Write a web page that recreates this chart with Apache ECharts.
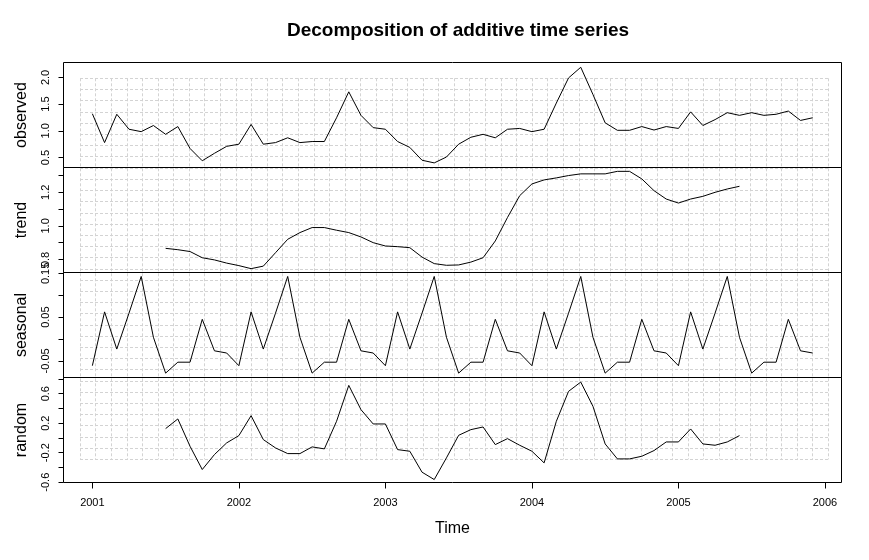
<!DOCTYPE html>
<html>
<head>
<meta charset="utf-8">
<script src="https://cdn.jsdelivr.net/npm/echarts@6/dist/echarts.min.js"></script>
<style>
html,body{margin:0;padding:0;background:#fff;}
#chart{width:869px;height:560px;}
</style>
</head>
<body>
<div id="chart"></div>
<script>
// ---- data (monthly time series, start 2001, frequency 12) ----
const startYear = 2001;
const frequency = 12;
const yearTicks = [2001, 2002, 2003, 2004, 2005, 2006];
const panelNames = ['observed', 'trend', 'seasonal', 'random'];

const observed = [
  1.32, 0.78, 1.31, 1.03, 0.985, 1.10, 0.935, 1.08, 0.67, 0.44, 0.58, 0.71,
  0.75, 1.12, 0.75, 0.78, 0.87, 0.78, 0.80, 0.80, 1.245, 1.73, 1.29, 1.06,
  1.03, 0.80, 0.69, 0.45, 0.40, 0.51, 0.75, 0.88, 0.935, 0.87, 1.03, 1.045,
  0.985, 1.03, 1.52, 1.99, 2.19, 1.68, 1.15, 1.01, 1.01, 1.08, 1.015, 1.08,
  1.045, 1.355, 1.10, 1.21, 1.34, 1.29, 1.34, 1.29, 1.31, 1.37, 1.195, 1.245
];
const trend = [
  null, null, null, null, null, null,
  0.866, 0.858, 0.847, 0.81, 0.797, 0.778,
  0.763, 0.745, 0.76, 0.84, 0.92, 0.96, 0.99, 0.99, 0.974, 0.96, 0.934, 0.90,
  0.88, 0.876, 0.87, 0.814, 0.775, 0.765, 0.767, 0.784, 0.81, 0.91, 1.05, 1.18,
  1.25, 1.274, 1.286, 1.30, 1.31, 1.31, 1.31, 1.325, 1.325, 1.28, 1.21, 1.16,
  1.136, 1.16, 1.176, 1.20, 1.22, 1.236,
  null, null, null, null, null, null
];
const seasonal = [
  -0.061, 0.062, -0.023, 0.059, 0.143, 0.004, -0.078, -0.053, -0.053, 0.045, -0.027, -0.032,
  -0.061, 0.062, -0.023, 0.059, 0.143, 0.004, -0.078, -0.053, -0.053, 0.045, -0.027, -0.032,
  -0.061, 0.062, -0.023, 0.059, 0.143, 0.004, -0.078, -0.053, -0.053, 0.045, -0.027, -0.032,
  -0.061, 0.062, -0.023, 0.059, 0.143, 0.004, -0.078, -0.053, -0.053, 0.045, -0.027, -0.032,
  -0.061, 0.062, -0.023, 0.059, 0.143, 0.004, -0.078, -0.053, -0.053, 0.045, -0.027, -0.032
];
const random = [
  null, null, null, null, null, null,
  0.127, 0.258, -0.113, -0.428, -0.225, -0.067,
  0.032, 0.302, -0.022, -0.135, -0.212, -0.212, -0.121, -0.148, 0.226, 0.713, 0.384, 0.19,
  0.19, -0.158, -0.18, -0.464, -0.564, -0.27, 0.036, 0.113, 0.149, -0.09, -0.009, -0.099,
  -0.18, -0.338, 0.226, 0.632, 0.758, 0.429, -0.081, -0.284, -0.284, -0.248, -0.171, -0.054,
  -0.054, 0.122, -0.081, -0.099, -0.054, 0.032,
  null, null, null, null, null, null
];

// axis ticks / labels per panel
const observedTicks = [0.5, 1.0, 1.5, 2.0];
const observedLabels = [0.5, 1.0, 1.5, 2.0];
const trendTicks = [0.8, 0.9, 1.0, 1.1, 1.2, 1.3];
const trendLabels = [0.8, 1.0, 1.2];
const seasonalTicks = [-0.05, 0.0, 0.05, 0.10, 0.15];
const seasonalLabels = [-0.05, 0.05, 0.15];
const randomTicks = [-0.6, -0.4, -0.2, 0.0, 0.2, 0.4, 0.6, 0.8];
const randomLabels = [-0.6, -0.2, 0.2, 0.6];

// ---- layout / style ----
const FONT = '"Liberation Sans", Arial, sans-serif';
const L = 63.5, W = 778;
const panelTops = [62.5, 167.5, 272.5, 377.5];
const panelH = 105;
const yLimits = [[0.314, 2.279], [0.722, 1.348], [-0.088, 0.152], [-0.604, 0.82]];
const xMin = 2000.803, xMax = 2006.113;

const seriesValues = [observed, trend, seasonal, random];
const tickSets = [observedTicks, trendTicks, seasonalTicks, randomTicks];
const labelSets = [observedLabels, trendLabels, seasonalLabels, randomLabels];
const decimals = [1, 1, 2, 1];

function toPairs(arr) {
  return arr.map((v, i) => [startYear + i / frequency, v]);
}

const grids = [], xAxes = [], yAxes = [], series = [];
panelTops.forEach((top, k) => {
  grids.push({left: L, top: top, width: W, height: panelH, show: true,
    borderColor: '#000', borderWidth: 1, backgroundColor: 'transparent', containLabel: false});
  const isLast = k === 3;
  xAxes.push({
    type: 'value', gridIndex: k, min: xMin, max: xMax, position: 'bottom',
    axisLine: {show: false, onZero: false},
    splitLine: {show: false},
    axisTick: {show: isLast, customValues: yearTicks, length: 6, lineStyle: {color: '#000'}},
    axisLabel: {show: isLast, customValues: yearTicks, margin: 15, fontSize: 11, color: '#000',
      fontFamily: FONT, formatter: v => String(Math.round(v))},
    name: isLast ? 'Time' : '', nameLocation: 'middle', nameGap: 38,
    nameTextStyle: {fontSize: 16, color: '#000', fontFamily: FONT}
  });
  yAxes.push({
    type: 'value', gridIndex: k, min: yLimits[k][0], max: yLimits[k][1], position: 'left',
    axisLine: {show: false, onZero: false},
    splitLine: {show: false},
    axisTick: {show: true, customValues: tickSets[k], length: 5, lineStyle: {color: '#000'}},
    axisLabel: {show: true, customValues: labelSets[k], rotate: 90, margin: 12, fontSize: 11,
      color: '#000', fontFamily: FONT, formatter: v => Number(v).toFixed(decimals[k])},
    name: panelNames[k], nameLocation: 'middle', nameRotate: 90, nameGap: 34,
    nameTextStyle: {fontSize: 16, color: '#000', fontFamily: FONT}
  });
  series.push({
    type: 'line', xAxisIndex: k, yAxisIndex: k, data: toPairs(seriesValues[k]),
    showSymbol: false, symbol: 'none', connectNulls: false,
    lineStyle: {color: '#000', width: 1}, z: 3, animation: false
  });
});

// dotted background grid overlay
grids.push({left: 80, top: 78.3, width: 748.3, height: 381, show: false});
xAxes.push({type: 'value', gridIndex: 4, min: 0, max: 48, interval: 1,
  axisLine: {show: false, onZero: false}, axisTick: {show: false}, axisLabel: {show: false},
  splitLine: {show: true, lineStyle: {color: '#d3d3d3', width: 1, type: [3, 2]}}});
yAxes.push({type: 'value', gridIndex: 4, min: 0, max: 34, interval: 1,
  axisLine: {show: false, onZero: false}, axisTick: {show: false}, axisLabel: {show: false},
  splitLine: {show: true, lineStyle: {color: '#d3d3d3', width: 1, type: [3, 2]}}});

const chart = echarts.init(document.getElementById('chart'), null, {renderer: 'canvas'});
chart.setOption({
  animation: false,
  backgroundColor: '#fff',
  title: {text: 'Decomposition of additive time series', left: 453, top: 16, textAlign: 'center',
    textStyle: {fontSize: 19, fontWeight: 'bold', color: '#000', fontFamily: FONT}},
  grid: grids,
  xAxis: xAxes,
  yAxis: yAxes,
  series: series
});
</script>
</body>
</html>
